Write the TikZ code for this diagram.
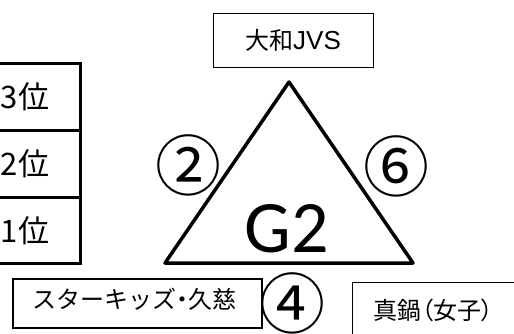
\documentclass[tikz,border=0pt]{standalone}
\usepackage{fontspec}
\setmainfont{Noto Sans CJK JP}
\newfontfamily\latinf{Liberation Sans}
\newfontfamily\gfont{Carlito}
\newcommand{\palt}[1]{{\addfontfeature{RawFeature=+palt}#1}}
\begin{document}
\begin{tikzpicture}[x=1pt,y=-1pt,
  lbl/.style={inner sep=0pt, font=\fontsize{24}{28}\selectfont},
  ranktxt/.style={inner sep=0pt, font=\fontsize{31}{36}\selectfont},
  circnum/.style={inner sep=0pt, font=\fontsize{66}{70}\selectfont},
  thinbox/.style={draw, line width=1pt, inner sep=0pt},
  rankline/.style={line width=3pt},
  tri/.style={line width=3.5pt, line join=round}]
\useasboundingbox (0,0) rectangle (514,333);
\clip (0,0) rectangle (514,333);
% top team box
\node[thinbox, minimum width=160pt, minimum height=54pt] (jvs) at (293,40) {};
\node[lbl] (jvst) at (293,40) {大和{\latinf\fontsize{26}{28}\selectfont JVS}};
% rank table
\coordinate (rtl) at (-10,63);
\coordinate (rbr) at (80,263);
\draw[rankline] (rtl) rectangle (rbr);
\coordinate (s1a) at (-10,130); \coordinate (s1b) at (80,130);
\coordinate (s2a) at (-10,197); \coordinate (s2b) at (80,197);
\draw[rankline] (s1a) -- (s1b);
\draw[rankline] (s2a) -- (s2b);
\node[ranktxt] (r3) at (25,97) {3位};
\node[ranktxt] (r2) at (25,164) {2位};
\node[ranktxt] (r1) at (25,231) {1位};
% triangle
\coordinate (ta) at (289,82);
\coordinate (tl) at (165,263);
\coordinate (tr) at (413,263);
\draw[tri] (ta) -- (tl) -- (tr) -- cycle;
\node[inner sep=0pt, anchor=base, font=\gfont\fontsize{74}{80}\selectfont] (g2) at (287,252) {G2};
% match numbers
\node[circnum] (m2) at (188.5,165.5) {②};
\node[circnum] (m6) at (396,166) {⑥};
\node[circnum] (m4) at (292.5,303.5) {④};
% bottom-left team
\node[draw, line width=1.5pt, inner sep=0pt, minimum width=249pt, minimum height=49pt] (sk) at (137.5,303.5) {};
\node[lbl] (skt) at (134,299) {スターキッズ\palt{・}久慈};
% bottom-right team
\coordinate (mb1) at (352,282);
\coordinate (mb2) at (540,360);
\draw[line width=1pt] (mb1) rectangle (mb2);
\node[lbl] (mt) at (433.5,310) {真鍋\palt{（}女子\palt{）}};
\end{tikzpicture}
\end{document}
